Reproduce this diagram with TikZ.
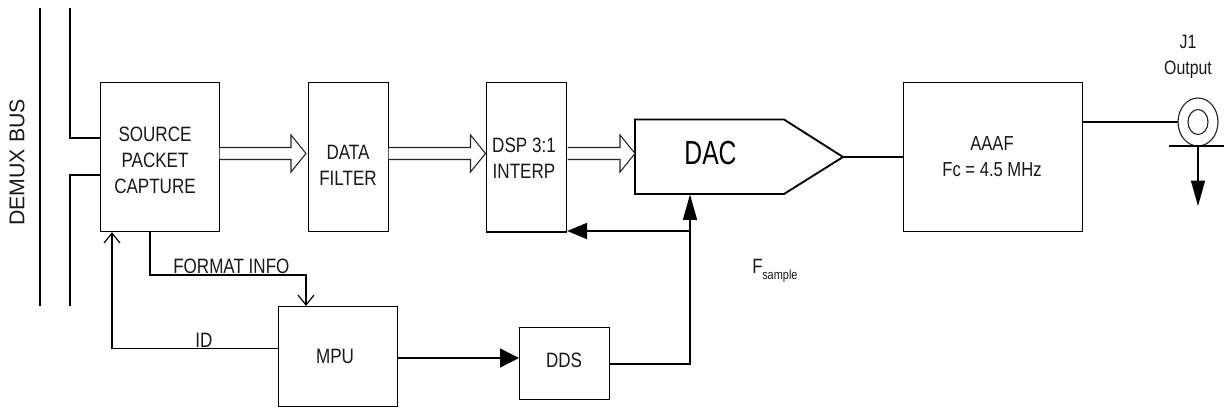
\documentclass[tikz,border=0pt]{standalone}
\usepackage{fontspec}
\setmainfont{Liberation Sans}
\newfontfamily\narrowf[FakeStretch=0.82]{Liberation Sans}
\newfontfamily\dacf[FakeStretch=0.74]{Liberation Sans}
\usetikzlibrary{arrows.meta,calc}
\tikzset{
  x=0.75pt,y=-0.75pt,
  ln/.style={draw=black,line width=1.1pt,line join=miter},
  thin ln/.style={draw=black!85,line width=0.85pt},
  blk/.style={draw=black,line width=0.85pt,inner sep=0pt,anchor=north west,fill=none},
  lbl/.style={inner sep=0pt,align=center,font=\narrowf\fontsize{15.6}{19.5}\selectfont,text=black!90},
  solid tip/.style={-{Triangle[length=#1*0.75pt,width=#1*0.75pt]}},
  open tip/.style={-{Straight Barb[length=7.5pt,width=12pt,line width=0.9pt]}},
  fat/.style={draw=black!85,line width=0.8pt,fill=white,line join=miter}
}
\newcommand{\fatarrow}[3]{% from coord, to coord, shaft half height
  \draw[fat] let \p1=(#1),\p2=(#2) in
    (\x1,\y1+#3*0.75pt) -- (\x2-11.25pt,\y2+#3*0.75pt) -- (\x2-11.25pt,\y2+13.9pt)
    -- (\x2,\y2) -- (\x2-11.25pt,\y2-13.9pt) -- (\x2-11.25pt,\y2-#3*0.75pt)
    -- (\x1,\y1-#3*0.75pt);}
\begin{document}
\begin{tikzpicture}
\useasboundingbox (0,0) rectangle (1224,409);
% blocks
\node[blk,minimum width=119*0.75pt,minimum height=149*0.75pt] (src) at (99.5,82) {};
\node[blk,minimum width=80*0.75pt,minimum height=149*0.75pt] (filt) at (307.5,82) {};
\node[blk,minimum width=80*0.75pt,minimum height=149.5*0.75pt] (dsp) at (486,82) {};
\node[blk,minimum width=179*0.75pt,minimum height=149*0.75pt] (aaaf) at (903,82) {};
\node[blk,minimum width=119*0.75pt,minimum height=100*0.75pt] (mpu) at (278,306) {};
\node[blk,minimum width=90*0.75pt,minimum height=72*0.75pt] (dds) at (519,327) {};
% DAC
\coordinate (dacnw) at (635,119.5);
\coordinate (dacne) at (784,119.5);
\coordinate (dactip) at (843,157);
\coordinate (dacse) at (784,194);
\coordinate (dacsw) at (635,194);
\draw[ln,line width=1.4pt] (dacnw) -- (dacne) -- (dactip) -- (dacse) -- (dacsw) -- cycle;
% texts
\node[lbl] (t1) at (155,160) {SOURCE\\PACKET\\CAPTURE};
\node[lbl] (t2) at (348,165) {DATA\\FILTER};
\node[lbl] (t3) at (524,158.5) {DSP 3:1\\INTERP};
\node[inner sep=0pt,font=\dacf\fontsize{25}{26}\selectfont] (t4) at (710.5,153) {DAC};
\node[lbl,font=\narrowf\fontsize{15.2}{19.5}\selectfont] (t5) at (992,157) {AAAF\\Fc = 4.5 MHz};
\node[inner sep=0pt,align=center,font=\narrowf\fontsize{14.5}{19}\selectfont,text=black!90] (t6) at (1188,57) {J1\\Output};
\node[lbl,anchor=west] (t7) at (173,266) {FORMAT INFO};
\node[lbl,anchor=west] (t8) at (195,340) {ID};
\node[lbl] (t9) at (335,356) {MPU};
\node[lbl] (t10) at (564,360) {DDS};
\node[inner sep=0pt,font=\narrowf\fontsize{15.5}{15}\selectfont,anchor=west,text=black!90] (t11) at (752,266) {F};
\node[inner sep=0pt,font=\narrowf\fontsize{10}{11}\selectfont,anchor=west,text=black!90] (t12) at (762,276.5) {sample};
\node[inner sep=0pt,rotate=90,font=\fontsize{16}{18}\selectfont,text=black!90] (t13) at (17,162.5) {DEMUX BUS};
% bus
\coordinate (bus0a) at (40,8); \coordinate (bus0b) at (40,306);
\coordinate (bus1a) at (70,8); \coordinate (bus1b) at (70,138);
\coordinate (bus2a) at (70,306); \coordinate (bus2b) at (70,175);
\draw[ln] (bus0a) -- (bus0b);
\draw[ln] (bus1a) -- (bus1b) -- (src.west |- bus1b);
\draw[ln] (bus2a) -- (bus2b) -- (src.west |- bus2b);
% fat arrows
\coordinate (f1a) at (src.east |- 0,153.5); \coordinate (f1b) at (306,153.5);
\coordinate (f2a) at (filt.east |- 0,153.5); \coordinate (f2b) at (485.5,153.5);
\coordinate (f3a) at (567.5,153.5); \coordinate (f3b) at (635,153.5);
\fatarrow{f1a}{f1b}{6}
\fatarrow{f2a}{f2b}{6}
\fatarrow{f3a}{f3b}{6}
% control
\coordinate (fi0) at (150,232); \coordinate (fi1) at (150,275); \coordinate (fi2) at (306,275);
\draw[ln,open tip] (fi0) -- (fi1) -- (fi2) -- (fi2 |- mpu.north);
\coordinate (id1) at (112,348.5);
\draw[ln,open tip] (mpu.west |- id1) -- (id1) -- (id1 |- src.south);
\coordinate (m1) at (mpu.east |- 0,358);
\draw[ln,solid tip=19] (m1) -- (dds.west |- m1);
\coordinate (d1) at (dds.east |- 0,364); \coordinate (d2) at (690,364);
\coordinate (dacb) at (690,194.5); \coordinate (br) at (690,231);
\draw[ln,-{Triangle[length=19pt,width=10.5pt]}] (d1) -- (d2) -- (dacb);
\draw[ln,line width=1.5pt,-{Triangle[length=15pt,width=12pt]}] (br) -- (dsp.east |- br);
% output
\draw[ln] (dactip) -- (aaaf.west |- dactip);
\coordinate (jc) at (1198,122);
\draw[ln] (aaaf.east |- jc) -- (1178,122);
\draw[thin ln] (jc) ellipse [x radius=15pt,y radius=18pt];
\draw[thin ln] (jc) ellipse [x radius=7.5pt,y radius=9.4pt];
\coordinate (barl) at (1169,146); \coordinate (barr) at (1224,146);
\coordinate (gtop) at (1198,146); \coordinate (gend) at (1198,206);
\draw[ln,line width=1.3pt] (barl) -- (barr);
\draw[ln,-{Triangle[length=19pt,width=10.5pt]}] (gtop) -- (gend);
\end{tikzpicture}
\end{document}
